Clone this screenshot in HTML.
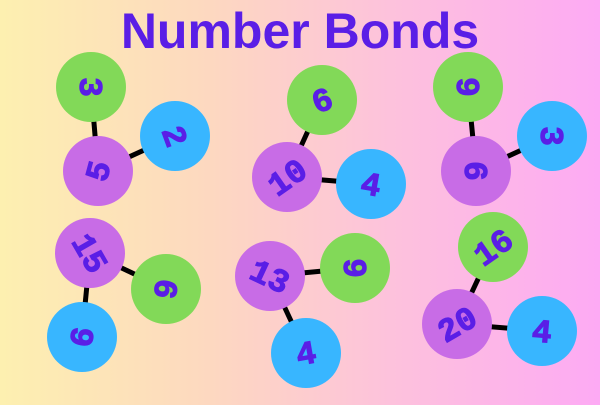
<!DOCTYPE html>
<html><head><style>
body{margin:0;width:600px;height:400px;overflow:hidden;background:linear-gradient(90deg,#fdf0b0 0%,#fdd8c0 35%,#fdc2dc 65%,#fdaaf4 100%);font-family:"Liberation Sans",sans-serif;}
</style></head><body>
<svg width="600" height="400" xmlns="http://www.w3.org/2000/svg">
<text x="300" y="48" text-anchor="middle" font-family="Liberation Sans" font-weight="bold" font-size="50" fill="#5a1ee6">Number Bonds</text>
<g stroke="#000" stroke-width="5">
<line x1="91" y1="87" x2="98" y2="171"/><line x1="98" y1="171" x2="175" y2="136"/>
<line x1="322" y1="100" x2="287" y2="177"/><line x1="287" y1="177" x2="371" y2="184"/>
<line x1="468" y1="87" x2="476" y2="171"/><line x1="476" y1="171" x2="552" y2="136"/>
<line x1="90" y1="253" x2="166" y2="289"/><line x1="90" y1="253" x2="82" y2="337"/>
<line x1="270" y1="276" x2="355" y2="268"/><line x1="270" y1="276" x2="306" y2="353"/>
<line x1="493" y1="247" x2="457" y2="324"/><line x1="457" y1="324" x2="542" y2="331"/>
</g>
<g font-family="Liberation Mono" font-weight="bold" font-size="33" fill="#5a1ee6" stroke="#5a1ee6" stroke-width="1" text-anchor="middle">
<circle cx="91" cy="87" r="35" fill="#82d958" stroke="none"/><text transform="translate(91,87) rotate(90)" y="11">3</text>
<circle cx="98" cy="171" r="35" fill="#c86ce6" stroke="none"/><text transform="translate(98,171) rotate(-75)" y="11">5</text>
<circle cx="175" cy="136" r="35" fill="#38b6ff" stroke="none"/><text transform="translate(175,136) rotate(70)" y="11">2</text>
<circle cx="322" cy="100" r="35" fill="#82d958" stroke="none"/><text transform="translate(322,100) rotate(-20)" y="11">6</text>
<circle cx="287" cy="177" r="35" fill="#c86ce6" stroke="none"/><text transform="translate(287,177) rotate(-35)" y="11">10</text>
<circle cx="371" cy="184" r="35" fill="#38b6ff" stroke="none"/><text transform="translate(371,184) rotate(10)" y="11">4</text>
<circle cx="468" cy="87" r="35" fill="#82d958" stroke="none"/><text transform="translate(468,87) rotate(-90)" y="11">6</text>
<circle cx="476" cy="171" r="35" fill="#c86ce6" stroke="none"/><text transform="translate(476,171) rotate(-90)" y="11">9</text>
<circle cx="552" cy="136" r="35" fill="#38b6ff" stroke="none"/><text transform="translate(552,136) rotate(90)" y="11">3</text>
<circle cx="90" cy="253" r="35" fill="#c86ce6" stroke="none"/><text transform="translate(90,253) rotate(60)" y="11">15</text>
<circle cx="166" cy="289" r="35" fill="#82d958" stroke="none"/><text transform="translate(166,289) rotate(100)" y="11">6</text>
<circle cx="82" cy="337" r="35" fill="#38b6ff" stroke="none"/><text transform="translate(82,337) rotate(100)" y="11">9</text>
<circle cx="270" cy="276" r="35" fill="#c86ce6" stroke="none"/><text transform="translate(270,276) rotate(25)" y="11">13</text>
<circle cx="355" cy="268" r="35" fill="#82d958" stroke="none"/><text transform="translate(355,268) rotate(90)" y="11">9</text>
<circle cx="306" cy="353" r="35" fill="#38b6ff" stroke="none"/><text transform="translate(306,353) rotate(-10)" y="11">4</text>
<circle cx="493" cy="247" r="35" fill="#82d958" stroke="none"/><text transform="translate(493,247) rotate(-35)" y="11">16</text>
<circle cx="457" cy="324" r="35" fill="#c86ce6" stroke="none"/><text transform="translate(457,324) rotate(-30)" y="11">20</text>
<circle cx="542" cy="331" r="35" fill="#38b6ff" stroke="none"/><text transform="translate(542,331) rotate(5)" y="11">4</text>
</g>
</svg>
</body></html>
